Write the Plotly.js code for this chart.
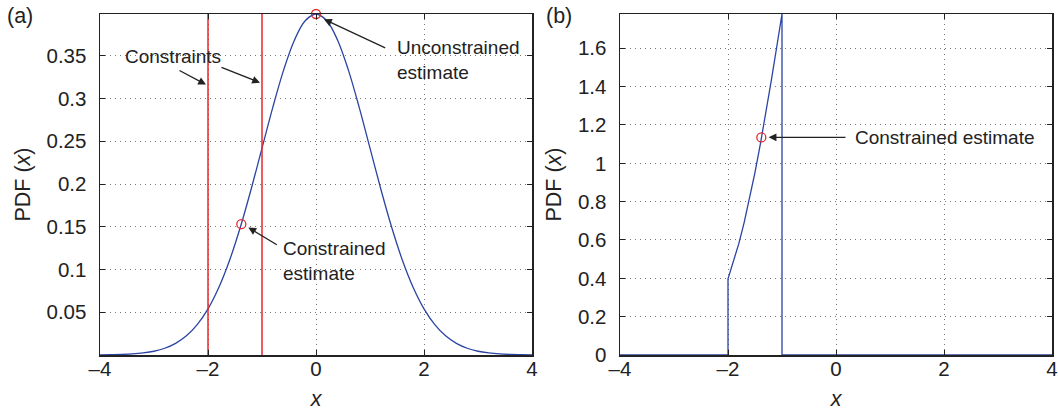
<!DOCTYPE html>
<html>
<head>
<meta charset="utf-8">
<script src="https://cdn.plot.ly/plotly-3.0.1.min.js"></script>
<style>html,body{margin:0;padding:0;background:#fff;}#chart{width:1058px;height:417px;}</style>
</head>
<body>
<div id="chart"></div>
<script>
// Panel (a): unconstrained PDF
const xA = [-4,-3.8,-3.6,-3.4,-3.2,-3,-2.8,-2.6,-2.4,-2.2,-2,-1.8,-1.6,-1.4,-1.2,-1,-0.8,-0.6,-0.4,-0.2,0,
            0.2,0.4,0.6,0.8,1,1.2,1.4,1.6,1.8,2,2.2,2.4,2.6,2.8,3,3.2,3.4,3.6,3.8,4];
const pdfA = [0.0001,0.0003,0.0006,0.0012,0.0024,0.0044,0.0079,0.0136,0.0224,0.0355,0.0540,0.0790,0.1109,0.1497,0.1942,0.2420,0.2897,0.3332,0.3683,0.3910,0.3989,
              0.3910,0.3683,0.3332,0.2897,0.2420,0.1942,0.1497,0.1109,0.0790,0.0540,0.0355,0.0224,0.0136,0.0079,0.0044,0.0024,0.0012,0.0006,0.0003,0.0001];
const constraints = [-2, -1];
const unconstrained = {x: 0, y: 0.3989};
const constrainedA = {x: -1.383, y: 0.153};

// Panel (b): constrained (truncated) PDF
const xB = [-4,-2,-2,-1.9,-1.8,-1.7,-1.6,-1.5,-1.4,-1.3,-1.2,-1.1,-1,-1,4];
const pdfB = [0,0,0.397,0.483,0.581,0.692,0.816,0.953,1.102,1.261,1.429,1.603,1.779,0,0];
const constrainedB = {x: -1.383, y: 1.135};

const blue = '#2b44a3';
const red = '#e8262b';
const fam = 'Liberation Sans, Arial, sans-serif';
const tickFont = {family: fam, size: 20.5, color: '#222'};
const titleFont = {family: fam, size: 21.5, color: '#222'};
const annFont = {family: fam, size: 19, color: '#222'};

const traces = [
  {x: xA, y: pdfA, xaxis: 'x', yaxis: 'y', mode: 'lines', line: {color: blue, width: 1.3, shape: 'spline'}, hoverinfo: 'skip'},
  {x: [constraints[0], constraints[0]], y: [0, 0.3989], xaxis: 'x', yaxis: 'y', mode: 'lines', line: {color: red, width: 1.5}},
  {x: [constraints[1], constraints[1]], y: [0, 0.3989], xaxis: 'x', yaxis: 'y', mode: 'lines', line: {color: red, width: 1.5}},
  {x: [unconstrained.x, constrainedA.x], y: [unconstrained.y, constrainedA.y], xaxis: 'x', yaxis: 'y', mode: 'markers', cliponaxis: false,
   marker: {symbol: 'circle-open', size: 9, color: red, line: {width: 1.3, color: red}}},
  {x: xB, y: pdfB, xaxis: 'x2', yaxis: 'y2', mode: 'lines', line: {color: blue, width: 1.3}},
  {x: [constrainedB.x], y: [constrainedB.y], xaxis: 'x2', yaxis: 'y2', mode: 'markers',
   marker: {symbol: 'circle-open', size: 9, color: red, line: {width: 1.3, color: red}}}
];

const xCommon = {
  range: [-4, 4], tickvals: [-4,-2,0,2,4], ticktext: ['\u20134','\u20132','0','2','4'],
  ticks: 'inside', ticklen: 5, tickcolor: '#222', showline: true, mirror: 'ticks', linecolor: '#222', linewidth: 1.5,
  showgrid: true, gridcolor: '#777', griddash: '1px,4px', gridwidth: 1, zeroline: false,
  tickfont: tickFont, automargin: false, ticklabelstandoff: -5,
  title: {text: '<i>x</i>', font: titleFont, standoff: 12}
};
const yCommon = {
  ticks: 'inside', ticklen: 5, tickcolor: '#222', showline: true, mirror: 'ticks', linecolor: '#222', linewidth: 1.5,
  showgrid: true, gridcolor: '#777', griddash: '1px,4px', gridwidth: 1, zeroline: false,
  tickfont: tickFont, automargin: false, ticklabelstandoff: 8,
  title: {text: 'PDF (<i>x</i>)', font: titleFont, standoff: 10}
};

const yDom = [(417-355)/417, (417-14)/417];

const layout = {
  width: 1058, height: 417,
  margin: {l: 0, r: 0, t: 0, b: 0},
  paper_bgcolor: '#fff', plot_bgcolor: '#fff',
  showlegend: false,
  font: annFont,
  xaxis: Object.assign({}, xCommon, {domain: [100/1058, 532/1058], anchor: 'y'}),
  yaxis: Object.assign({}, yCommon, {domain: yDom, anchor: 'x', range: [0, 0.3989],
    tickvals: [0.05,0.1,0.15,0.2,0.25,0.3,0.35], ticktext: ['0.05','0.1','0.15','0.2','0.25','0.3','0.35']}),
  xaxis2: Object.assign({}, xCommon, {domain: [620/1058, 1052/1058], anchor: 'y2'}),
  yaxis2: Object.assign({}, yCommon, {domain: yDom, anchor: 'x2', range: [0, 1.779],
    tickvals: [0,0.2,0.4,0.6,0.8,1,1.2,1.4,1.6], ticktext: ['0','0.2','0.4','0.6','0.8','1','1.2','1.4','1.6']}),
  annotations: [
    {xref: 'paper', yref: 'paper', x: 5/1058, y: 1 - 16/417, xanchor: 'left', yanchor: 'middle', text: '(a)', showarrow: false, font: titleFont},
    {xref: 'paper', yref: 'paper', x: 544/1058, y: 1 - 16/417, xanchor: 'left', yanchor: 'middle', text: '(b)', showarrow: false, font: titleFont},
    // panel a texts
    {xref: 'x', yref: 'y', x: -2.639, y: 0.3488, text: 'Constraints', showarrow: false, font: annFont, xanchor: 'center', yanchor: 'middle'},
    {xref: 'x', yref: 'y', x: 1.46, y: 0.3448, text: 'Unconstrained<br>estimate', align: 'left', showarrow: false, font: annFont, xanchor: 'left', yanchor: 'middle'},
    {xref: 'x', yref: 'y', x: -0.64, y: 0.1105, text: 'Constrained<br>estimate', align: 'left', showarrow: false, font: annFont, xanchor: 'left', yanchor: 'middle'},
    // panel a arrows
    {xref: 'x', yref: 'y', axref: 'x', ayref: 'y', x: -2.037, y: 0.3163, ax: -2.556, ay: 0.3337, text: '', showarrow: true, arrowhead: 2, arrowsize: 1.2, arrowwidth: 1.3, arrowcolor: '#222'},
    {xref: 'x', yref: 'y', axref: 'x', ayref: 'y', x: -1.037, y: 0.3186, ax: -1.778, ay: 0.3372, text: '', showarrow: true, arrowhead: 2, arrowsize: 1.2, arrowwidth: 1.3, arrowcolor: '#222'},
    {xref: 'x', yref: 'y', axref: 'x', ayref: 'y', x: 0.148, y: 0.3927, ax: 1.309, ay: 0.3584, text: '', showarrow: true, arrowhead: 2, arrowsize: 1.2, arrowwidth: 1.3, arrowcolor: '#222'},
    {xref: 'x', yref: 'y', axref: 'x', ayref: 'y', x: -1.253, y: 0.1492, ax: -0.698, ay: 0.1279, text: '', showarrow: true, arrowhead: 2, arrowsize: 1.2, arrowwidth: 1.3, arrowcolor: '#222'},
    // panel b
    {xref: 'x2', yref: 'y2', x: 0.32, y: 1.1355, text: 'Constrained estimate', showarrow: false, font: annFont, xanchor: 'left', yanchor: 'middle'},
    {xref: 'x2', yref: 'y2', axref: 'x2', ayref: 'y2', x: -1.248, y: 1.1355, ax: 0.204, ay: 1.1355, text: '', showarrow: true, arrowhead: 2, arrowsize: 1.2, arrowwidth: 1.3, arrowcolor: '#222'}
  ]
};

Plotly.newPlot('chart', traces, layout, {displayModeBar: false, staticPlot: true});
</script>
</body>
</html>
